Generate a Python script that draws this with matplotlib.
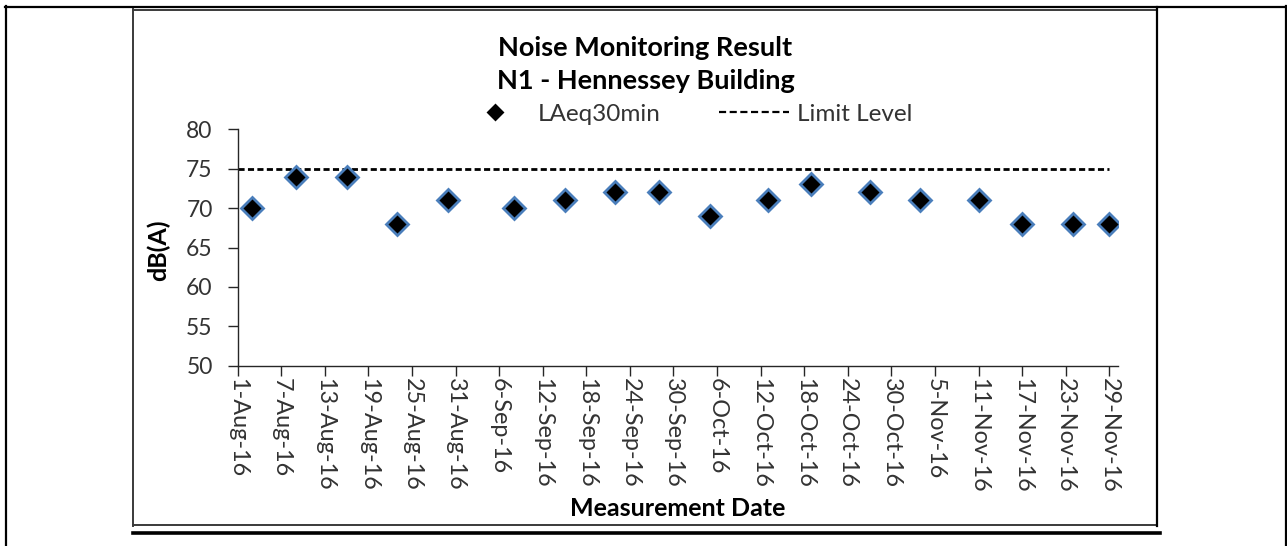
import matplotlib
matplotlib.use("Agg")
import matplotlib.pyplot as plt
import matplotlib.dates as mdates
import numpy as np
from matplotlib.lines import Line2D

dates = ["2016-08-03", "2016-08-09", "2016-08-16", "2016-08-23", "2016-08-30",
         "2016-09-08", "2016-09-15", "2016-09-22", "2016-09-28", "2016-10-05",
         "2016-10-13", "2016-10-19", "2016-10-27", "2016-11-03", "2016-11-11",
         "2016-11-17", "2016-11-24", "2016-11-29"]
laeq = [70, 74, 74, 68, 71, 70, 71, 72, 72, 69, 71, 73, 72, 71, 71, 68, 68, 68]

limit_dates = ["2016-08-01", "2016-11-29"]
limit_values = [75, 75]

tick_labels = ["1-Aug-16", "7-Aug-16", "13-Aug-16", "19-Aug-16", "25-Aug-16",
               "31-Aug-16", "6-Sep-16", "12-Sep-16", "18-Sep-16", "24-Sep-16",
               "30-Sep-16", "6-Oct-16", "12-Oct-16", "18-Oct-16", "24-Oct-16",
               "30-Oct-16", "5-Nov-16", "11-Nov-16", "17-Nov-16", "23-Nov-16",
               "29-Nov-16"]
y_ticks = [50, 55, 60, 65, 70, 75, 80]

plt.rcParams['font.family'] = ['Lato', 'DejaVu Sans']

W, H = 1287, 546
fig = plt.figure(figsize=(W / 100, H / 100), dpi=100)


def fx(x):
    return x / W


def fy(y):
    return 1 - y / H


ax = fig.add_axes([fx(237.7), fy(365.7), fx(1118) - fx(237.7), fy(129.3) - fy(365.7)])

x = mdates.date2num(np.array(dates, dtype='datetime64[D]'))
xl = mdates.date2num(np.array(limit_dates, dtype='datetime64[D]'))

ax.plot(x, laeq, linestyle='none', marker='D', markersize=11.5,
        markerfacecolor='black', markeredgecolor='#4a7ebb', markeredgewidth=2.0,
        label='LAeq30min', zorder=3)
ax.plot(xl, limit_values, color='black', linewidth=2.0, dashes=(2.2, 1.2),
        label='Limit Level', zorder=2)

start = mdates.date2num(np.datetime64('2016-08-01'))
tick_pos = start + 6 * np.arange(len(tick_labels))
ax.set_xlim(start, start + 121.2)
ax.set_ylim(50, 80)
ax.set_xticks(tick_pos)
ax.set_xticklabels(tick_labels, rotation=270, ha='center', va='top')
ax.set_yticks(y_ticks)

for s in ['top', 'right']:
    ax.spines[s].set_visible(False)
for s in ['left', 'bottom']:
    ax.spines[s].set_color('#262626')
    ax.spines[s].set_linewidth(1.0)
ax.tick_params(axis='both', direction='out', length=7, width=1.0,
               color='#262626', labelcolor='#333333')
ax.tick_params(axis='y', pad=11, labelsize=16.5)
ax.tick_params(axis='x', pad=2, labelsize=16.8)

ax.set_xlabel('Measurement Date', fontsize=18, fontweight='bold', va='center')
ax.xaxis.set_label_coords(0.5, (365.7 - 508) / 236.4)
ax.set_ylabel('dB(A)', fontsize=18, fontweight='bold', va='center')
ax.yaxis.set_label_coords((158 - 237.7) / 880.3, 0.49)

fig.text(fx(645.5), fy(48), 'Noise Monitoring Result', fontsize=19.5,
         fontweight='bold', ha='center', va='center')
fig.text(fx(645.5), fy(81), 'N1 - Hennessey Building', fontsize=19.5,
         fontweight='bold', ha='center', va='center')

leg = ax.legend(loc='center', bbox_to_anchor=(fx(686), fy(114)),
                bbox_transform=fig.transFigure, ncol=2, frameon=False,
                fontsize=17.5, markerscale=0.6, handlelength=2.9,
                handletextpad=0.3, columnspacing=2.4, borderpad=0)
for t in leg.get_texts():
    t.set_color('#333333')
leg.legend_handles[0].set_markeredgecolor('black')
leg.legend_handles[1].set_linewidth(1.6)
leg.legend_handles[1].set_dashes((3.2, 1.6))

# surrounding frame lines
def hline(y, x0, x1, lw, color='black'):
    fig.add_artist(Line2D([fx(x0), fx(x1)], [fy(y), fy(y)], color=color,
                          linewidth=lw, transform=fig.transFigure))


def vline(x, y0, y1, lw, color='black'):
    fig.add_artist(Line2D([fx(x), fx(x)], [fy(y0), fy(y1)], color=color,
                          linewidth=lw, transform=fig.transFigure))


hline(7, 5, 1287, 1.6)
vline(6, 6, 546, 1.6)
vline(1286, 6, 546, 1.6)
# chart box
hline(9.5, 133, 1157, 1.4, '#3a3a3a')
hline(525, 133, 1157, 1.4, '#3a3a3a')
vline(133, 9, 525.5, 1.4, '#3a3a3a')
vline(1157, 7, 525.5, 1.6, 'black')
hline(532.7, 133, 1160, 2.6)

fig.savefig('out.png', dpi=100)
